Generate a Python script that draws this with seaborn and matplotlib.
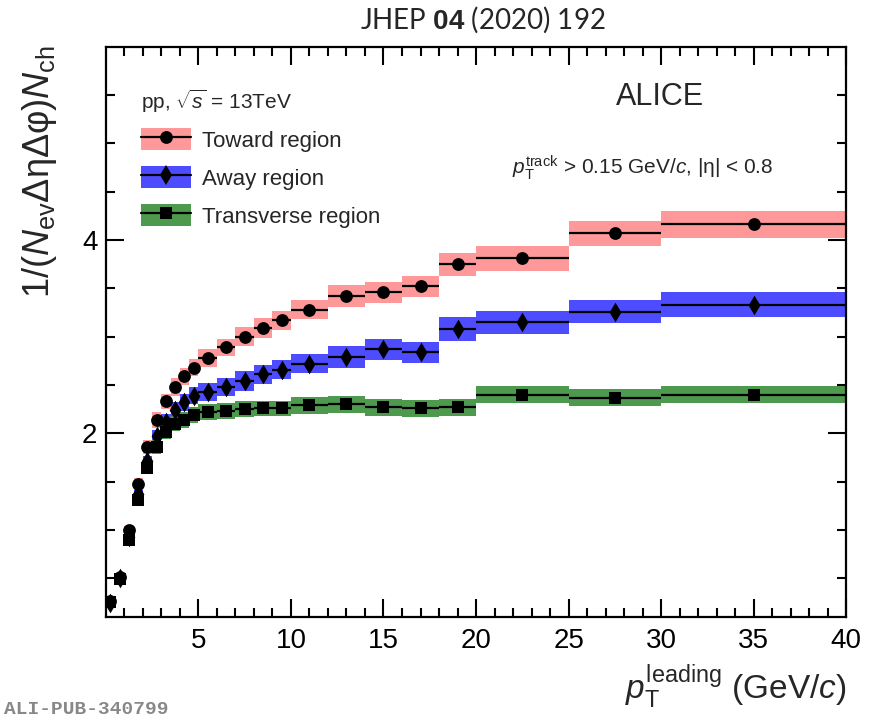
import numpy as np
import pandas as pd
import matplotlib.pyplot as plt
import seaborn as sns
from matplotlib.patches import Patch
from matplotlib.lines import Line2D

sns.set_style("white")
plt.rcParams['font.family'] = ['Liberation Sans', 'DejaVu Sans']
plt.rcParams['mathtext.fontset'] = 'custom'
plt.rcParams['mathtext.rm'] = 'Liberation Sans'
plt.rcParams['mathtext.it'] = 'Liberation Sans:italic'
plt.rcParams['mathtext.bf'] = 'Liberation Sans:bold'

# bins in leading pT (GeV/c)
bin_edges = [0, 0.5, 1, 1.5, 2, 2.5, 3, 3.5, 4, 4.5, 5, 6, 7, 8, 9, 10,
             12, 14, 16, 18, 20, 25, 30, 40]

toward = [0.27, 0.52, 1.00, 1.48, 1.86, 2.14, 2.33, 2.48, 2.59, 2.68, 2.78, 2.89,
          3.00, 3.09, 3.17, 3.28, 3.42, 3.46, 3.52, 3.75, 3.81, 4.07, 4.16]
away = [0.25, 0.50, 0.93, 1.37, 1.71, 1.97, 2.12, 2.24, 2.32, 2.39, 2.43, 2.48,
        2.54, 2.61, 2.66, 2.72, 2.79, 2.87, 2.84, 3.08, 3.15, 3.26, 3.33]
transverse = [0.26, 0.49, 0.90, 1.31, 1.64, 1.86, 2.01, 2.10, 2.14, 2.19, 2.22, 2.23,
              2.25, 2.26, 2.26, 2.29, 2.30, 2.27, 2.26, 2.27, 2.40, 2.37, 2.40]

# systematic uncertainties (band half height)
toward_sys = [0.02, 0.03, 0.04, 0.06, 0.07, 0.08, 0.08, 0.09, 0.09, 0.09, 0.09, 0.09,
              0.10, 0.10, 0.10, 0.10, 0.11, 0.11, 0.11, 0.12, 0.13, 0.13, 0.14]
away_sys = [0.02, 0.03, 0.04, 0.05, 0.06, 0.07, 0.08, 0.08, 0.09, 0.09, 0.09, 0.09,
            0.10, 0.10, 0.10, 0.10, 0.11, 0.11, 0.11, 0.12, 0.12, 0.12, 0.13]
trans_sys = [0.02, 0.03, 0.04, 0.05, 0.06, 0.07, 0.07, 0.08, 0.08, 0.08, 0.08, 0.08,
             0.08, 0.08, 0.08, 0.09, 0.09, 0.09, 0.09, 0.09, 0.09, 0.09, 0.09]

edges = np.array(bin_edges)
centers = 0.5 * (edges[:-1] + edges[1:])
widths = np.diff(edges)

regions = {
    'Toward region': (toward, toward_sys, '#ff9999', 'o', 85),
    'Away region': (away, away_sys, '#4d4dff', 'd', 100),
    'Transverse region': (transverse, trans_sys, '#4d994d', 's', 70),
}

fig = plt.figure(figsize=(8.89, 7.21), dpi=100)
ax = fig.add_axes([0.119, 0.144, 0.833, 0.7915])

# systematic boxes
for name, (vals, sys_, col, mk, sz) in regions.items():
    v = np.array(vals)
    s = np.array(sys_)
    ax.bar(centers, 2 * s, bottom=v - s, width=widths, color=col,
           edgecolor='none', linewidth=0, zorder=1)

# horizontal bin-width bars
for name, (vals, sys_, col, mk, sz) in regions.items():
    ax.errorbar(centers, vals, xerr=widths / 2, fmt='none', ecolor='black',
                elinewidth=1.6, capsize=0, zorder=2)

# markers
df = pd.concat([pd.DataFrame({'pt': centers, 'val': vals, 'region': name})
                for name, (vals, *_r) in regions.items()], ignore_index=True)
for name, (vals, sys_, col, mk, sz) in regions.items():
    sns.scatterplot(data=df[df['region'] == name], x='pt', y='val', marker=mk,
                    s=sz, color='black', edgecolor='black', linewidth=0,
                    legend=False, ax=ax, zorder=3)

ax.set_xlim(0, 40)
ax.set_ylim(0.1, 6)
ax.set_xticks(range(5, 41, 5))
ax.set_xticks(range(1, 40), minor=True)
ax.set_yticks([2, 4])
ax.set_yticks(np.arange(0.5, 6, 0.5), minor=True)
ax.tick_params(which='both', direction='in', top=True, right=True, bottom=True,
               left=True, width=1.5, labelsize=20, colors='black')
ax.tick_params(which='major', length=13)
ax.tick_params(which='minor', length=6.5)
ax.tick_params(axis='x', pad=8)
ax.tick_params(axis='y', pad=6)
for sp in ax.spines.values():
    sp.set_linewidth(1.6)
    sp.set_color('black')
ax.set_xlabel('')
ax.set_ylabel('')

fig.text(0.952, 1 - 687 / 721, r'$p_{\rm T}^{\rm leading}$ (GeV/$c$)',
         ha='right', va='center', fontsize=24)
fig.text(40 / 889, 1 - 45 / 721, r'1/($N_{\rm ev}$ΔηΔφ)$N_{\rm ch}$',
         rotation=90, ha='center', va='top', fontsize=26)

fig.text(483 / 889, 1 - 20 / 721, 'JHEP $\\bf{04}$ (2020) 192', ha='center',
         va='center', fontsize=20, family=['Lato', 'DejaVu Sans'])
fig.text(4 / 889, 1 - 710 / 721, 'ALI-PUB-340799', ha='left', va='center',
         fontsize=14, color='#888888', family=['Liberation Mono', 'DejaVu Sans Mono'],
         fontweight='bold')

ax.text(0.749, 0.9115, 'ALICE', transform=ax.transAxes, ha='center', va='center',
        fontsize=22)
ax.text(0.047, 0.903, r'pp, $\sqrt{s}$ = 13TeV', transform=ax.transAxes,
        ha='left', va='center', fontsize=15)
ax.text(0.548, 0.787, r'$p_{\rm T}^{\rm track}$ > 0.15 GeV/$c$, |η| < 0.8',
        transform=ax.transAxes, ha='left', va='center', fontsize=15)

handles = []
for name, (vals, sys_, col, mk, sz) in regions.items():
    handles.append((Patch(facecolor=col, edgecolor='none'),
                    Line2D([], [], color='black', lw=1.6, marker=mk,
                           markersize=np.sqrt(sz), markeredgewidth=0)))
ax.legend(handles, list(regions.keys()), loc='upper left',
          bbox_to_anchor=(0.047, 0.857), frameon=False, fontsize=16,
          handlelength=2.25, handleheight=1.15, labelspacing=0.65,
          handletextpad=0.5, borderpad=0, borderaxespad=0)

fig.savefig('out.png', dpi=100)
